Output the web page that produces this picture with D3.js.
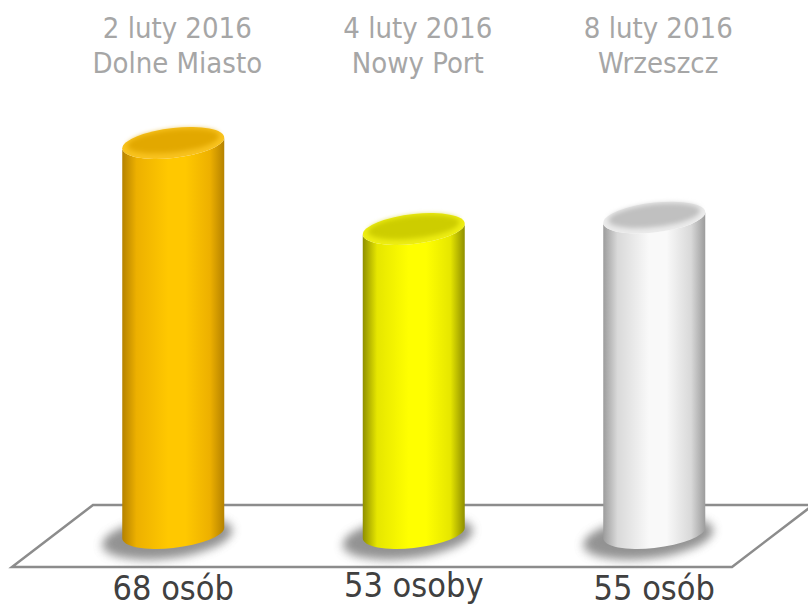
<!DOCTYPE html>
<html>
<head>
<meta charset="utf-8">
<script src="https://cdn.jsdelivr.net/npm/d3@7"></script>
<style>
  body { margin: 0; background: #fff; }
  svg { display: block; }
</style>
</head>
<body>
<svg id="drawing_region"></svg>
<script>
// data
const dates = ["2 luty 2016", "4 luty 2016", "8 luty 2016"];
const places = ["Dolne Miasto", "Nowy Port", "Wrzeszcz"];
const values = [68, 53, 55];
const valueLabels = ["68 osób", "53 osoby", "55 osób"];

const width = 808, height = 609;

// colour sets per cylinder
const palettes = [
  { edge: "#b58200", mid: "#edb000", bright: "#ffc800", top: "#e2a800", rim: "#f9c31e" },
  { edge: "#8f8f00", mid: "#e6e600", bright: "#ffff00", top: "#cdcd00", rim: "#eeee12" },
  { edge: "#9c9c9c", mid: "#d9d9d9", bright: "#f9f9f9", top: "#c0c0c0", rim: "#ebebeb" }
];

const svg = d3.select("#drawing_region")
  .attr("width", width)
  .attr("height", height);

const defs = svg.append("defs");

const xscale = d3.scalePoint()
  .domain(d3.range(values.length))
  .range([53, 774.5])
  .padding(0.5);

const yscale = d3.scaleLinear()
  .domain([0, 68])
  .range([533, 143]);

const rx = 51, ry = 15, tilt = -6;

// blur filters
defs.append("filter").attr("id", "shadowBlur")
  .attr("x", "-50%").attr("y", "-50%").attr("width", "200%").attr("height", "200%")
  .append("feGaussianBlur").attr("stdDeviation", 5);
defs.append("filter").attr("id", "topBlur")
  .attr("x", "-20%").attr("y", "-50%").attr("width", "140%").attr("height", "200%")
  .append("feGaussianBlur").attr("stdDeviation", 2.5);

palettes.forEach((p, i) => {
  const g = defs.append("linearGradient")
    .attr("id", "body" + i)
    .attr("x1", "0%").attr("x2", "100%").attr("y1", "0%").attr("y2", "0%");
  [[0, p.edge], [0.14, p.mid], [0.45, p.bright], [0.62, p.bright], [0.86, p.mid], [1, p.edge]]
    .forEach(s => g.append("stop").attr("offset", s[0]).attr("stop-color", s[1]));
});

// floor
const floor = [[93, 505], [813, 505], [732, 567], [12, 567]];
svg.append("polygon")
  .attr("points", floor.map(d => d.join(",")).join(" "))
  .attr("fill", "#fff")
  .attr("stroke", "#8c8c8c")
  .attr("stroke-width", 2.5);

// cylinders
const base = yscale(0);
const cyl = svg.selectAll("g.cyl")
  .data(values)
  .join("g")
  .attr("class", "cyl")
  .attr("transform", (d, i) => `translate(${xscale(i)},0) skewY(${tilt})`);

cyl.append("ellipse")
  .attr("cx", -6)
  .attr("cy", base + 4)
  .attr("rx", rx + 14)
  .attr("ry", ry + 6)
  .attr("fill", "#6e6e6e")
  .attr("opacity", 0.75)
  .attr("filter", "url(#shadowBlur)");

cyl.append("path")
  .attr("fill", (d, i) => `url(#body${i})`)
  .attr("d", d => {
    const top = yscale(d);
    return `M${-rx},${top} L${-rx},${base} A${rx},${ry} 0 0 0 ${rx},${base} ` +
           `L${rx},${top} A${rx},${ry} 0 0 1 ${-rx},${top} Z`;
  });

cyl.append("ellipse")
  .attr("cx", 0)
  .attr("cy", d => yscale(d))
  .attr("rx", rx)
  .attr("ry", ry)
  .attr("fill", (d, i) => palettes[i].rim);

cyl.append("ellipse")
  .attr("cx", 0)
  .attr("cy", d => yscale(d) - 2)
  .attr("rx", rx - 5)
  .attr("ry", ry - 3.5)
  .attr("fill", (d, i) => palettes[i].top)
  .attr("filter", "url(#topBlur)");

// labels on top
const head = svg.selectAll("text.head")
  .data(dates)
  .join("text")
  .attr("class", "head")
  .attr("x", (d, i) => xscale(i) + 4)
  .attr("y", 38)
  .attr("text-anchor", "middle")
  .attr("fill", "#a6a6a6")
  .style("font-family", "'DejaVu Sans Condensed', 'DejaVu Sans', sans-serif")
  .style("font-size", "29px");

head.append("tspan").text(d => d);
head.append("tspan")
  .attr("x", (d, i) => xscale(i) + 4)
  .attr("dy", 35)
  .text((d, i) => places[i]);

// value labels (the one with a descender sits a little higher, as in the picture)
svg.selectAll("text.val")
  .data(valueLabels)
  .join("text")
  .attr("class", "val")
  .attr("x", (d, i) => xscale(i))
  .attr("y", d => /[gjpqy]/.test(d) ? 597 : 600)
  .attr("text-anchor", "middle")
  .attr("fill", "#404040")
  .style("font-family", "'DejaVu Sans Condensed', 'DejaVu Sans', sans-serif")
  .style("font-size", "34px")
  .text(d => d);
</script>
</body>
</html>
